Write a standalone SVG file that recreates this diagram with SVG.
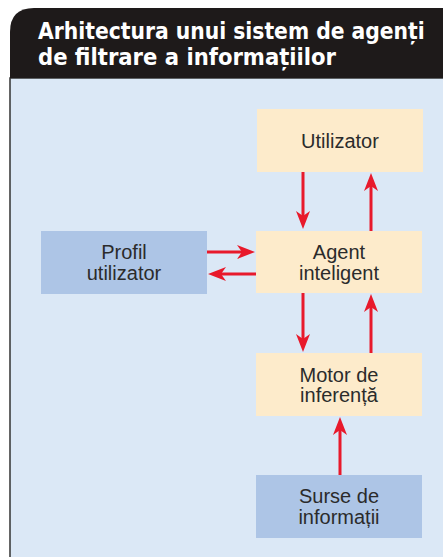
<svg xmlns="http://www.w3.org/2000/svg" width="443" height="557" viewBox="0 0 443 557">
<style>
.title{font-family:"DejaVu Sans Condensed","DejaVu Sans","Liberation Sans",sans-serif;font-weight:bold;font-stretch:condensed;font-size:22.6px;fill:#ffffff}
.lbl{font-family:"Liberation Sans","Noto Sans",sans-serif;font-size:20px;fill:#2b2b2b;text-anchor:middle}
.cream{fill:#fdebcb}
.blue{fill:#adc5e6}
.conn{stroke:#e8192b;stroke-width:3;fill:none;marker-end:url(#ah)}
</style>
<defs>
<marker id="ah" markerUnits="userSpaceOnUse" markerWidth="20" markerHeight="16" refX="5" refY="7" orient="auto">
<path d="M0,0 L18,7 L0,14 L5,7 Z" fill="#e8192b"/>
</marker>
</defs>
<rect x="0" y="0" width="443" height="557" fill="#ffffff"/>
<g id="panel">
<rect x="10" y="78" width="440" height="490" fill="#dbe8f6" stroke="#333333" stroke-width="1.5"/>
</g>
<g id="header">
<path d="M10,78 L10,32 Q10,8 34,8 L443,8 L443,78 Z" fill="#1e1a1a"/>
<text class="title" x="38" y="39">Arhitectura unui sistem de agenți</text>
<text class="title" x="38" y="65" textLength="298" lengthAdjust="spacingAndGlyphs">de filtrare a informațiilor</text>
</g>
<g id="utilizator">
<rect class="cream" x="257" y="109" width="166" height="63"/>
<text class="lbl" x="340" y="148">Utilizator</text>
</g>
<g id="agent">
<rect class="cream" x="256" y="231" width="166" height="62"/>
<text class="lbl" x="339" y="259">Agent</text>
<text class="lbl" x="339" y="280">inteligent</text>
</g>
<g id="profil">
<rect class="blue" x="41" y="231" width="166" height="63"/>
<text class="lbl" x="124" y="259">Profil</text>
<text class="lbl" x="124" y="280">utilizator</text>
</g>
<g id="motor">
<rect class="cream" x="256" y="353" width="166" height="63"/>
<text class="lbl" x="339" y="382">Motor de</text>
<text class="lbl" x="339" y="402">inferență</text>
</g>
<g id="surse">
<rect class="blue" x="256" y="475" width="166" height="63"/>
<text class="lbl" x="339" y="503">Surse de</text>
<text class="lbl" x="339" y="524">informații</text>
</g>
<g id="connectors">
<line class="conn" x1="303" y1="172" x2="303" y2="216"/>
<line class="conn" x1="371" y1="231" x2="371" y2="186"/>
<line class="conn" x1="207" y1="252" x2="242" y2="252"/>
<line class="conn" x1="256" y1="274" x2="221" y2="274"/>
<line class="conn" x1="303" y1="293" x2="303" y2="339"/>
<line class="conn" x1="371" y1="353" x2="371" y2="307"/>
<line class="conn" x1="340" y1="475" x2="340" y2="430"/>
</g>
</svg>
